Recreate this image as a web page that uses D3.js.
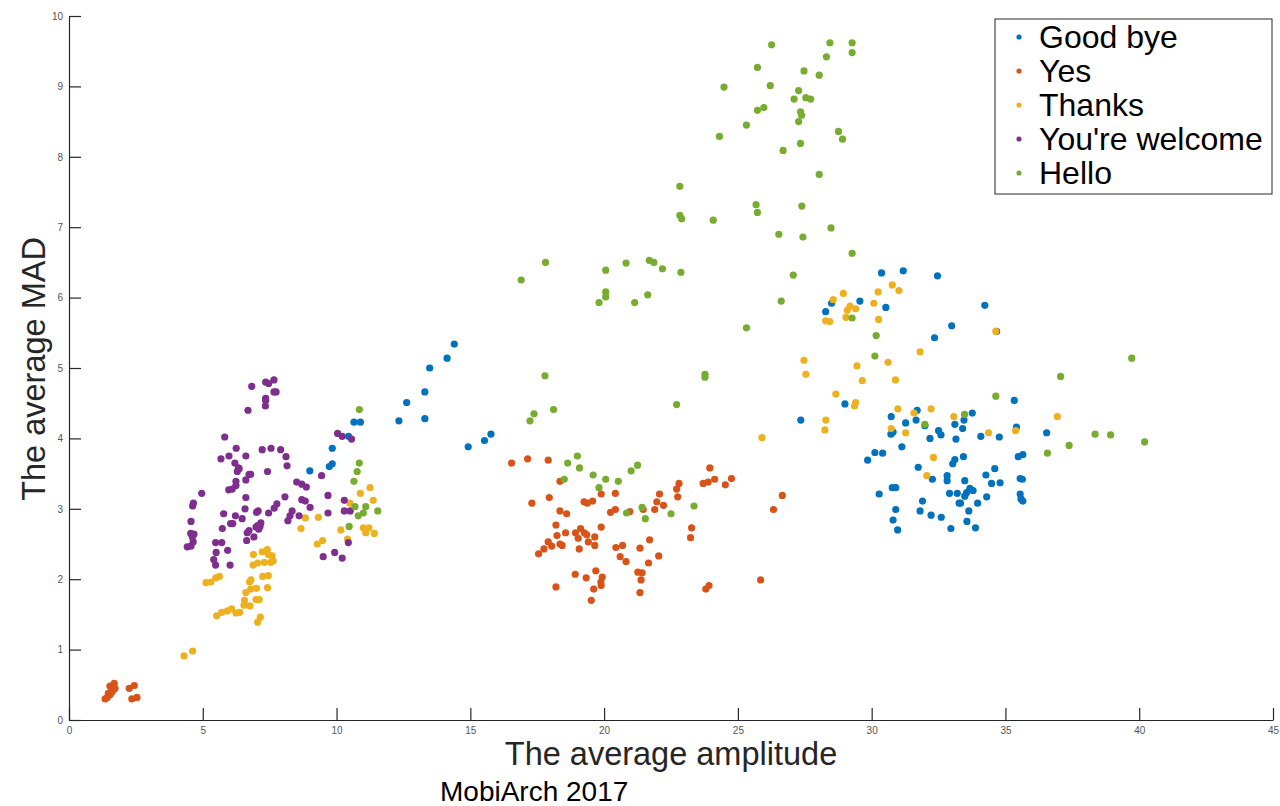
<!DOCTYPE html>
<html>
<head>
<meta charset="utf-8">
<script src="https://cdn.jsdelivr.net/npm/d3@7"></script>
<style>
  body { margin: 0; background: #fff; }
  svg { display: block; font-family: "Liberation Sans", Arial, Helvetica, sans-serif; }
</style>
</head>
<body>
<div id="chart"></div>
<script>
// series names and colours (MATLAB default order)
const seriesNames = ['Good bye', 'Yes', 'Thanks', "You're welcome", 'Hello']
const seriesColors = ['#0072BD', '#D95319', '#EDB120', '#7E2F8E', '#77AC30']

const xTicks = [0, 5, 10, 15, 20, 25, 30, 35, 40, 45]
const yTicks = [0, 1, 2, 3, 4, 5, 6, 7, 8, 9, 10]

// [average amplitude, average MAD]
const goodBye = [
  [14.40,5.34],[14.13,5.14],[13.48,5.00],[13.30,4.66],[12.62,4.51],[12.33,4.25],[13.30,4.28],[14.92,3.88],[15.53,3.97],[15.77,4.06],
  [10.65,4.23],[10.89,4.23],[10.45,4.03],[9.84,3.86],[9.84,3.64],[9.73,3.60],[9.00,3.54],
  [30.37,6.35],[31.18,6.38],[32.46,6.31],[29.56,5.95],[30.53,5.86],[34.23,5.89],[32.99,5.60],[32.35,5.43],[34.67,5.52],[28.50,5.92],[28.28,5.80],[27.35,4.26],
  [29.00,4.49],[35.33,4.54],[31.70,4.40],[30.73,4.31],[31.27,4.22],[31.66,4.26],[33.76,4.36],[33.45,4.26],[33.11,4.20],[33.40,4.14],
  [31.99,4.18],[32.50,4.11],[32.59,4.05],[30.80,4.09],[30.72,4.06],[32.18,4.00],[33.15,3.99],[34.08,4.03],[34.77,4.02],[35.41,4.16],
  [36.54,4.08],[31.13,3.88],[30.12,3.80],[30.41,3.79],[29.85,3.69],[33.43,3.74],[33.11,3.70],[33.03,3.64],[35.48,3.74],[35.65,3.77],
  [34.60,3.57],[34.27,3.48],[34.48,3.36],[34.80,3.37],[35.55,3.43],[35.63,3.42],[31.74,3.59],[32.82,3.47],[32.82,3.40],[32.27,3.42],
  [33.48,3.40],[30.77,3.30],[30.90,3.30],[30.28,3.21],[32.91,3.22],[33.20,3.22],[33.67,3.29],[33.79,3.26],[33.55,3.23],[33.48,3.18],
  [34.30,3.17],[35.55,3.21],[35.58,3.14],[35.65,3.11],[31.90,3.11],[33.27,3.08],[33.32,3.08],[33.96,3.08],[30.90,2.99],[31.81,2.97],
  [32.22,2.91],[32.60,2.88],[33.63,2.97],[30.80,2.84],[33.56,2.82],[33.88,2.73],[32.96,2.72],[30.97,2.70]
]

const yes = [
  [1.35,0.30],[1.43,0.32],[1.53,0.36],[1.59,0.39],[1.66,0.43],[1.72,0.45],[1.59,0.46],[1.69,0.52],[1.53,0.48],[1.47,0.38],
  [2.25,0.45],[2.44,0.49],[2.35,0.30],[2.54,0.32],
  [16.54,3.65],[17.14,3.71],[17.91,3.69],[18.35,3.39],[17.30,3.08],[17.95,3.16],[18.35,2.97],[18.60,2.93],[19.25,3.10],[19.37,3.08],
  [19.57,3.11],[19.89,3.21],[20.42,3.22],[20.24,2.95],[20.42,2.99],[20.96,2.96],[21.46,2.99],[21.89,2.99],[21.97,3.10],[22.07,3.21],
  [22.22,3.05],[22.71,3.28],[22.80,3.36],[22.75,3.17],[23.70,3.36],[23.89,3.38],[24.13,3.42],[23.95,3.58],[24.53,3.34],[24.76,3.43],
  [26.66,3.19],[26.33,2.99],[23.27,2.73],[23.23,2.59],[18.20,2.77],[18.24,2.62],[18.56,2.66],[18.93,2.66],[19.12,2.72],[19.03,2.58],
  [19.26,2.66],[19.35,2.63],[19.65,2.60],[19.65,2.48],[19.89,2.74],[19.41,2.53],[17.91,2.53],[18.04,2.47],[17.75,2.43],[17.55,2.36],
  [18.35,2.50],[18.43,2.48],[19.07,2.43],[20.44,2.45],[20.69,2.48],[21.34,2.44],[21.70,2.56],[20.60,2.32],[20.82,2.25],[21.66,2.23],
  [22.04,2.33],[18.92,2.07],[19.33,2.02],[19.69,2.12],[19.93,2.03],[19.88,1.96],[19.89,1.91],[19.61,1.86],[19.52,1.70],[18.20,1.89],
  [21.26,2.10],[21.42,2.09],[21.38,1.99],[21.34,1.81],[23.80,1.86],[23.92,1.91],[25.85,1.99]
]

const thanks = [
  [4.30,0.91],[4.62,0.98],[5.12,1.95],[5.30,1.96],[5.49,2.02],[5.62,2.04],[6.89,2.35],[7.05,2.23],[6.88,2.20],[7.22,2.39],
  [7.41,2.42],[7.45,2.35],[7.30,2.24],[7.59,2.33],[7.63,2.26],[7.54,2.24],[6.75,1.96],[6.80,1.99],[7.24,2.04],[7.45,2.05],
  [7.42,1.88],[6.61,1.81],[6.79,1.86],[7.01,1.87],[6.56,1.70],[6.76,1.62],[6.99,1.71],[7.11,1.71],[6.54,1.63],[5.52,1.48],
  [5.71,1.53],[5.92,1.55],[6.08,1.58],[6.24,1.52],[6.38,1.53],[7.15,1.46],[7.05,1.39],[8.67,2.72],[8.83,2.87],[9.32,2.88],
  [9.28,2.50],[9.48,2.55],[10.16,2.70],[10.41,2.57],[10.50,3.08],[10.89,3.22],[11.25,3.30],[11.37,3.12],[11.00,2.73],[11.21,2.73],
  [11.09,2.66],[11.41,2.65],
  [28.94,6.06],[30.77,6.18],[31.02,6.10],[30.24,6.08],[30.08,5.92],[29.19,5.88],[29.09,5.82],[29.40,5.84],[29.04,5.72],[30.26,5.69],
  [34.64,5.52],[31.81,5.23],[29.45,5.03],[30.61,5.08],[29.65,4.82],[30.89,4.83],[29.40,4.51],[29.36,4.46],[30.98,4.42],[31.58,4.36],
  [32.22,4.42],[33.07,4.31],[30.73,4.14],[31.27,4.08],[34.37,4.08],[35.38,4.11],[36.94,4.31],[32.31,3.73],[32.06,3.47],[28.56,5.97],
  [28.28,5.67],[28.43,5.66],[27.47,5.11],[27.54,4.91],[28.29,4.26],[28.25,4.12],[28.66,4.63],[25.90,4.01]
]

const youreWelcome = [
  [6.83,4.74],[7.35,4.80],[7.46,4.78],[7.66,4.83],[7.66,4.66],[7.74,4.66],[7.35,4.57],[7.35,4.54],[7.34,4.46],[6.69,4.40],
  [5.82,4.02],[6.25,3.86],[6.61,3.75],[5.68,3.71],[5.98,3.75],[7.22,3.84],[7.55,3.86],[7.91,3.84],[8.11,3.74],[8.15,3.61],
  [6.20,3.65],[6.33,3.58],[6.29,3.53],[6.36,3.57],[6.73,3.49],[6.79,3.49],[7.42,3.53],[6.61,3.41],[6.24,3.39],[6.24,3.33],
  [5.97,3.27],[6.10,3.28],[4.96,3.22],[4.65,3.08],[4.62,3.04],[6.61,3.16],[8.51,3.38],[8.70,3.35],[8.87,3.31],[8.07,3.17],
  [8.70,3.13],[8.83,3.11],[9.01,3.02],[7.77,3.07],[7.67,3.01],[7.46,2.94],[7.07,2.97],[7.01,2.95],[6.58,3.00],[5.78,2.93],
  [6.22,2.90],[6.47,2.86],[6.12,2.79],[6.04,2.79],[5.73,2.72],[7.17,2.80],[7.14,2.75],[7.05,2.76],[6.99,2.74],[7.09,2.71],
  [8.34,2.97],[8.26,2.90],[8.18,2.83],[8.60,2.90],[9.68,3.19],[9.68,2.94],[9.44,3.47],[4.56,2.82],[4.55,2.65],[4.67,2.64],
  [4.61,2.60],[4.42,2.46],[4.56,2.47],[4.64,2.53],[5.48,2.52],[5.71,2.52],[5.50,2.38],[5.93,2.41],[5.41,2.28],[5.48,2.20],
  [6.02,2.20],[6.66,2.66],[6.73,2.69],[6.91,2.60],[6.64,2.55],[9.50,2.32],[9.93,2.38],[10.21,2.30],[10.44,2.52],[10.29,3.12],
  [10.29,2.97],[10.51,2.97],[10.04,4.07],[10.21,4.03],[10.56,3.99]
]

const hello = [
  [26.26,9.59],[28.44,9.62],[29.27,9.62],[29.27,9.48],[28.31,9.42],[25.73,9.27],[27.47,9.22],[28.04,9.16],[24.48,8.99],[26.21,9.01],
  [27.27,8.94],[27.10,8.82],[27.54,8.84],[27.72,8.82],[25.73,8.66],[25.97,8.70],[27.34,8.64],[27.38,8.59],[27.27,8.50],[25.32,8.45],
  [24.31,8.29],[28.76,8.36],[28.91,8.25],[27.34,8.19],[26.69,8.09],[28.04,7.75],[22.83,7.58],[25.68,7.32],[25.73,7.21],[27.39,7.30],
  [22.83,7.17],[22.90,7.12],[24.08,7.10],[26.53,6.90],[27.43,6.86],[28.48,6.99],[29.27,6.63],[22.87,6.36],[27.07,6.32],[26.62,5.95],
  [25.32,5.57],[29.27,5.71],
  [17.81,6.50],[16.90,6.25],[20.06,6.39],[20.82,6.49],[21.69,6.53],[21.86,6.50],[22.18,6.41],[20.06,6.08],[20.06,6.01],[19.81,5.93],
  [21.14,5.93],[21.63,6.04],[17.79,4.89],[22.71,4.48],[18.11,4.41],[17.38,4.35],[17.23,4.25],[23.77,4.91],[23.77,4.87],
  [10.85,4.41],[10.85,3.65],[10.77,3.53],[10.65,3.39],[19.00,3.75],[18.64,3.65],[19.08,3.58],[18.51,3.42],[19.59,3.48],[20.06,3.42],
  [20.53,3.39],[19.81,3.30],[21.01,3.54],[21.25,3.62],[21.42,3.02],[20.84,2.94],[21.54,2.86],[22.50,2.93],[23.36,3.04],
  [10.69,3.03],[11.09,3.03],[11.00,2.94],[10.81,2.90],[11.54,2.97],[10.47,2.75],
  [39.72,5.14],[37.06,4.88],[38.35,4.06],[38.93,4.05],[40.20,3.95],[37.38,3.90],[36.57,3.79],
  [30.17,5.46],[30.12,5.17],[34.64,4.60],[33.47,4.34],[31.99,4.20]
]

const allSeries = [goodBye, yes, thanks, youreWelcome, hello]

let width = 1280
let height = 806
let margin = { top: 16, right: 7, bottom: 86, left: 69 }
let plotW = width - margin.left - margin.right
let plotH = height - margin.top - margin.bottom
let axisColor = '#262626'
let pointRadius = 3.6

/* Scales */
let xScale = d3.scaleLinear().domain([0, 45]).range([0, plotW])
let yScale = d3.scaleLinear().domain([0, 10]).range([plotH, 0])

let svg = d3.select('#chart')
  .append('svg')
  .attr('width', width)
  .attr('height', height)

let g = svg.append('g')
  .attr('transform', `translate(${margin.left}, ${margin.top})`)

/* Axes, ticks pointing inward like MATLAB */
let xAxis = d3.axisBottom(xScale).tickValues(xTicks).tickSizeInner(-12).tickSizeOuter(0).tickPadding(7)
let yAxis = d3.axisLeft(yScale).tickValues(yTicks).tickSizeInner(-12).tickSizeOuter(0).tickPadding(6)

g.append('g')
  .attr('class', 'x axis')
  .attr('transform', `translate(0, ${plotH})`)
  .call(xAxis)

g.append('g')
  .attr('class', 'y axis')
  .call(yAxis)

g.selectAll('.axis path, .axis line').attr('stroke', axisColor).attr('stroke-width', 1.2)
g.selectAll('.axis text')
  .attr('fill', '#555')
  .style('font-size', '10px')
  .style('font-family', '"Liberation Sans", Arial, sans-serif')

/* Points */
let groups = g.append('g')
  .selectAll('.series')
  .data(allSeries)
  .enter()
  .append('g')
  .attr('class', 'series')
  .style('fill', (d, i) => seriesColors[i])

groups.selectAll('circle')
  .data(d => d)
  .enter()
  .append('circle')
  .attr('cx', d => xScale(d[0]))
  .attr('cy', d => yScale(d[1]))
  .attr('r', pointRadius)

/* Axis labels */
svg.append('text')
  .attr('x', margin.left + xScale(22.5))
  .attr('y', 765)
  .attr('text-anchor', 'middle')
  .attr('fill', '#262626')
  .style('font-size', '32.5px')
  .text('The average amplitude')

svg.append('text')
  .attr('transform', `translate(45, ${margin.top + yScale(5) + 1}) rotate(-90)`)
  .attr('text-anchor', 'middle')
  .attr('fill', '#262626')
  .style('font-size', '32.5px')
  .text('The average MAD')

svg.append('text')
  .attr('x', 440)
  .attr('y', 801)
  .attr('fill', '#000')
  .style('font-size', '28px')
  .text('MobiArch 2017')

/* Legend */
let legend = svg.append('g').attr('transform', 'translate(995, 19)')

legend.append('rect')
  .attr('width', 277)
  .attr('height', 175)
  .attr('fill', '#fff')
  .attr('stroke', axisColor)
  .attr('stroke-width', 1)

let items = legend.selectAll('.item')
  .data(seriesNames)
  .enter()
  .append('g')
  .attr('class', 'item')
  .attr('transform', (d, i) => `translate(0, ${18 + i * 34})`)

items.append('circle')
  .attr('cx', 24)
  .attr('cy', 0)
  .attr('r', 2.6)
  .attr('fill', (d, i) => seriesColors[i])

items.append('text')
  .attr('x', 44)
  .attr('y', 11)
  .attr('fill', '#000')
  .style('font-size', '32px')
  .text(d => d)
</script>
</body>
</html>
